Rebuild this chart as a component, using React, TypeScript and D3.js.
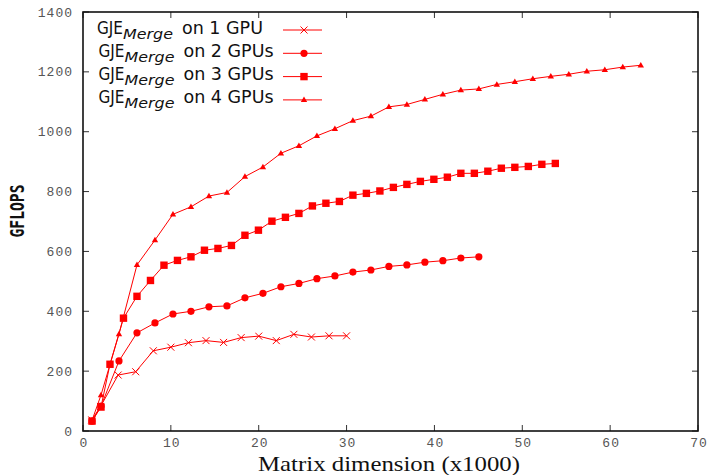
import React from "react";
import * as d3 from "d3";

const gpu1X = [1, 2, 4, 6, 8, 10, 12, 14, 16, 18, 20, 22, 24, 26, 28, 30];
const gpu1Y = [37, 82, 187, 198, 268, 280, 295, 302, 296, 312, 317, 302, 323, 314, 318, 318];

const gpu2X = [1.024, 2.048, 4.096, 6.144, 8.192, 10.24, 12.288, 14.336, 16.384, 18.432, 20.48, 22.528, 24.576, 26.624, 28.672, 30.72, 32.768, 34.816, 36.864, 38.912, 40.96, 43.008, 45.056];
const gpu2Y = [33, 83, 234, 328, 361, 391, 400, 415, 418, 445, 460, 482, 493, 509, 518, 531, 538, 550, 555, 564, 569, 578, 582];

const gpu3X = [1.024, 2.048, 3.072, 4.608, 6.144, 7.68, 9.216, 10.752, 12.288, 13.824, 15.36, 16.896, 18.432, 19.968, 21.504, 23.04, 24.576, 26.112, 27.648, 29.184, 30.72, 32.256, 33.792, 35.328, 36.864, 38.4, 39.936, 41.472, 43.008, 44.544, 46.08, 47.616, 49.152, 50.688, 52.224, 53.76];
const gpu3Y = [33, 80, 223, 377, 450, 503, 554, 570, 582, 604, 610, 620, 654, 671, 701, 714, 727, 752, 761, 767, 788, 794, 802, 814, 824, 834, 841, 848, 861, 861, 868, 878, 881, 884, 891, 894];

const gpu4X = [1.024, 2.048, 4.096, 6.144, 8.192, 10.24, 12.288, 14.336, 16.384, 18.432, 20.48, 22.528, 24.576, 26.624, 28.672, 30.72, 32.768, 34.816, 36.864, 38.912, 40.96, 43.008, 45.056, 47.104, 49.152, 51.2, 53.248, 55.296, 57.344, 59.392, 61.44, 63.488];
const gpu4Y = [35, 120, 324, 555, 638, 724, 749, 785, 797, 850, 882, 928, 953, 986, 1010, 1037, 1052, 1083, 1091, 1108, 1125, 1139, 1143, 1158, 1167, 1177, 1185, 1192, 1202, 1207, 1216, 1222];

const xTicks = [0, 10, 20, 30, 40, 50, 60, 70];
const yTicks = [0, 200, 400, 600, 800, 1000, 1200, 1400];
const seriesGpuLabels = ["on 1 GPU", "on 2 GPUs", "on 3 GPUs", "on 4 GPUs"];
const markerKinds = ["cross", "circle", "square", "triangle"];

const RED = "#ff0000";

function Marker({ kind, x, y }: { kind: string; x: number; y: number }) {
  if (kind === "cross") {
    const s = 3.5;
    return (
      <g stroke={RED} strokeWidth={1}>
        <line x1={x - s} y1={y - s} x2={x + s} y2={y + s} />
        <line x1={x - s} y1={y + s} x2={x + s} y2={y - s} />
      </g>
    );
  }
  if (kind === "circle") return <circle cx={x} cy={y} r={3.6} fill={RED} />;
  if (kind === "square") return <rect x={x - 3.7} y={y - 3.7} width={7.4} height={7.4} fill={RED} />;
  return <path d={`M${x - 3.2},${y + 2.2}L${x + 3.2},${y + 2.2}L${x},${y - 3.3}Z`} fill={RED} />;
}

export default function App() {
  const W = 713, H = 475;
  const x = d3.scaleLinear().domain([0, 70]).range([83, 698]);
  const y = d3.scaleLinear().domain([0, 1400]).range([431, 12]);
  const line = d3.line<[number, number]>().x((d) => x(d[0])).y((d) => y(d[1]));

  const series = [
    { xs: gpu1X, ys: gpu1Y },
    { xs: gpu2X, ys: gpu2Y },
    { xs: gpu3X, ys: gpu3Y },
    { xs: gpu4X, ys: gpu4Y },
  ];

  const tickColor = "#555";
  const tickFont = "'Liberation Mono', 'DejaVu Sans Mono', monospace";
  const legFont = "'DejaVu Sans', sans-serif";

  return (
    <svg width={W} height={H} style={{ position: "absolute", left: 0, top: 0, background: "#fff" }}>
      <rect width={W} height={H} fill="#fff" />
      {xTicks.map((t) => (
        <g key={"xt" + t}>
          <line x1={x(t)} x2={x(t)} y1={431} y2={425} stroke="#333" strokeWidth={1} />
          <line x1={x(t)} x2={x(t)} y1={12} y2={18} stroke="#333" strokeWidth={1} />
          <text x={x(t) + 1} y={447} textAnchor="middle" fontFamily={tickFont} fontSize={13} letterSpacing={1} fill={tickColor}>
            {t}
          </text>
        </g>
      ))}
      {yTicks.map((t) => (
        <g key={"yt" + t}>
          <line x1={83} x2={89} y1={y(t)} y2={y(t)} stroke="#333" strokeWidth={1} />
          <line x1={698} x2={692} y1={y(t)} y2={y(t)} stroke="#333" strokeWidth={1} />
          <text x={73} y={y(t) + 4.5} textAnchor="end" fontFamily={tickFont} fontSize={13} letterSpacing={1} fill={tickColor}>
            {t}
          </text>
        </g>
      ))}
      <rect x={83} y={12} width={615} height={419} fill="none" stroke="#111" strokeWidth={1.6} />

      {series.map((s, i) => {
        const pts: [number, number][] = s.xs.map((v, j) => [v, s.ys[j]]);
        return (
          <g key={"s" + i}>
            <path d={line(pts) || ""} fill="none" stroke={RED} strokeWidth={1} />
            {pts.map((p, j) => (
              <Marker key={j} kind={markerKinds[i]} x={x(p[0])} y={y(p[1])} />
            ))}
          </g>
        );
      })}

      {seriesGpuLabels.map((lab, i) => {
        const by = 33.5 + i * 23.3;
        const x0 = i === 0 ? 97 : 98.5;
        return (
          <g key={"lg" + i} fill="#111" fontFamily={legFont}>
            <text x={x0} y={by} fontSize={18} textLength={26} lengthAdjust="spacingAndGlyphs">GJE</text>
            <text x={x0 + 26} y={by + 5} fontSize={14} fontStyle="italic" textLength={50} lengthAdjust="spacingAndGlyphs">Merge</text>
            <text x={x0 + 85} y={by} fontSize={17.5}>{lab}</text>
            <line x1={283} x2={322} y1={by - 3.5} y2={by - 3.5} stroke={RED} strokeWidth={1} />
            <Marker kind={markerKinds[i]} x={304} y={by - 3.5} />
          </g>
        );
      })}

      <text
        transform="translate(24,211) rotate(-90)"
        textAnchor="middle"
        fontFamily="'DejaVu Sans Mono', monospace"
        fontWeight="bold"
        fontSize={20}
        textLength={53}
        lengthAdjust="spacingAndGlyphs"
        fill="#111"
      >
        GFLOPS
      </text>
      <text
        x={389}
        y={471}
        textAnchor="middle"
        fontFamily="'Liberation Serif', 'DejaVu Serif', serif"
        fontSize={22}
        textLength={262}
        lengthAdjust="spacingAndGlyphs"
        fill="#111"
      >
        Matrix dimension (x1000)
      </text>
    </svg>
  );
}
